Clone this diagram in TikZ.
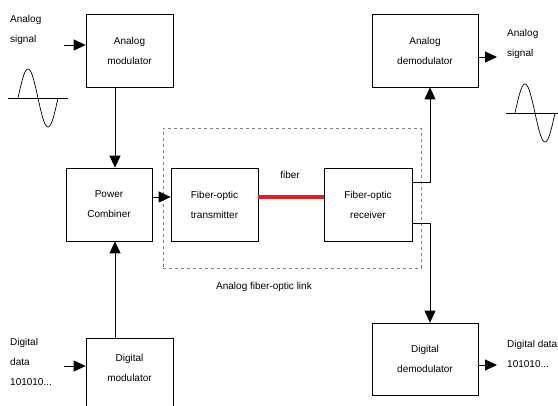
\documentclass[tikz,border=0pt]{standalone}
\usepackage{fontspec}
\setmainfont{Liberation Sans}
\usetikzlibrary{arrows.meta}
\definecolor{fibred}{RGB}{228,30,36}
\begin{document}
\begin{tikzpicture}[x=1pt,y=-1pt,
  font=\fontsize{10}{20}\selectfont,
  box/.style={draw, line width=0.7pt, inner sep=0pt, align=center},
  arr/.style={-{Triangle[length=12pt,width=11pt]}, line width=0.8pt},
  lbl/.style={inner sep=0pt, align=left, anchor=west},
  wave/.style={line width=0.7pt}]
\useasboundingbox[fill=white] (0,0) rectangle (558,406);
% boxes
\node[box, minimum width=87pt, minimum height=73pt] (amod) at (129.5,50.5) {Analog\\modulator};
\node[box, minimum width=106pt, minimum height=73pt] (ademod) at (425,50.5) {Analog\\demodulator};
\node[box, minimum width=86pt, minimum height=73pt] (comb) at (109,204.5) {Power\\Combiner};
\node[box, minimum width=87pt, minimum height=73pt] (tx) at (214.5,204.5) {Fiber-optic\\transmitter};
\node[box, minimum width=88pt, minimum height=73pt] (rx) at (368,204.5) {Fiber-optic\\receiver};
\node[box, minimum width=87pt, minimum height=76pt] (dmod) at (129.5,376) {};
\node[inner sep=0pt, align=center] (dmodtxt) at (129.5,368) {Digital\\modulator};
\node[box, minimum width=106pt, minimum height=72pt] (ddemod) at (425,359) {Digital\\demodulator};
% thick bottom edges
\draw[line width=1.5pt] (amod.south west) -- (amod.south east);
\draw[line width=1.5pt] (ademod.south west) -- (ademod.south east);
\draw[line width=1.5pt] (ddemod.south west) -- (ddemod.south east);
% dashed link box
\node[draw=gray, dashed, line width=0.7pt, minimum width=258pt, minimum height=140pt, inner sep=0pt] (link) at (292,198) {};
\node[inner sep=0pt] (linklbl) at (264,287) {Analog fiber-optic link};
% labels
\node[lbl] (asig) at (10,30) {Analog\\signal};
\node[lbl] (asigout) at (507,44) {Analog\\signal};
\node[lbl] (ddata) at (10,362) {Digital\\data\\101010...};
\node[lbl] (ddataout) at (507,354) {Digital data\\101010...};
\node[inner sep=0pt] (fib) at (290,175) {fiber};
% input/output arrows
\coordinate (ain) at (64,45);
\draw[arr] (ain) -- (ain -| amod.west);
\coordinate (aout) at (497,57);
\draw[arr] (aout -| ademod.east) -- (aout);
\coordinate (din) at (64,366);
\draw[arr] (din) -- (din -| dmod.west);
\coordinate (dout) at (497,365);
\draw[arr] (dout -| ddemod.east) -- (dout);
% internal connectors
\draw[arr] ([xshift=-14.5pt]amod.south) -- ([xshift=-14.5pt]amod.south |- comb.north);
\draw[arr] ([xshift=-14.5pt]dmod.north) -- ([xshift=-14.5pt]dmod.north |- comb.south);
\draw[arr] ([yshift=7.5pt]comb.east) -- ([yshift=7.5pt]tx.west);
\draw[fibred, line width=4pt] ([yshift=7.5pt]tx.east) -- ([yshift=7.5pt]rx.west);
\draw[arr] ([yshift=22.5pt]rx.east) -| ([xshift=5pt]ademod.south);
\draw[arr] ([yshift=-18.5pt]rx.east) -| ([xshift=5pt]ddemod.north);
% sine waves
\draw[wave] (8,98) -- (68,98);
\draw[wave] plot[domain=0:360, samples=60, smooth] ({18+\x/9}, {98-29*sin(\x)});
\draw[wave] (506,113) -- (558,113);
\draw[wave] plot[domain=0:360, samples=60, smooth] ({515+\x/9}, {113-29*sin(\x)});
\end{tikzpicture}
\end{document}
